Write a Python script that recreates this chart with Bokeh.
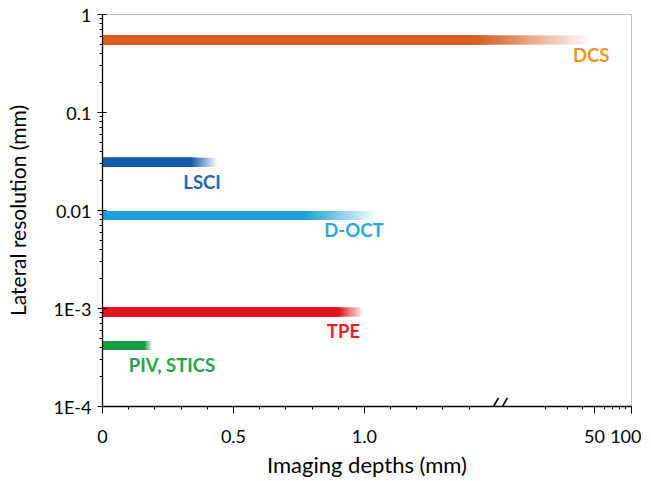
import math
from bokeh.plotting import figure
from bokeh.models import FixedTicker, Range1d, ColumnDataSource
from bokeh.core.properties import value
from bokeh.embed import file_html
from bokeh.resources import INLINE

# ---------------- data ----------------
techniques = ["DCS", "LSCI", "D-OCT", "TPE", "PIV, STICS"]
resolution_mm = [0.55, 0.031, 0.0089, 0.00092, 0.00042]
depth_solid_mm = [1.43, 0.34, 0.77, 0.90, 0.16]
depth_max_mm = [47.0, 0.44, 1.05, 1.0, 0.19]
bar_colors = ["#E8672A", "#1C68B2", "#29A9E1", "#ED1F24", "#22A54B"]
label_colors = ["#F7931E", "#2167AF", "#2AA8E0", "#ED1F24", "#22A54B"]

x_tick_depths = [0, 0.5, 1.0, 50, 100]
x_tick_labels = ["0", "0.5", "1.0", "50", "100"]
x_minor_depths = [0.1, 0.2, 0.3, 0.4, 0.6, 0.7, 0.8, 0.9, 1.1, 1.2, 1.3, 1.4,
                  20, 30, 40, 60, 70, 80, 90]
y_tick_values = [1e-4, 1e-3, 1e-2, 1e-1, 1.0]
y_tick_labels = ["1E-4", "1E-3", "0.01", "0.1", "1"]

# ------------- layout / style -------------
label_depth = [47.0, 0.38, 0.96, 0.92, 0.265]
label_dy_px = [15, 20, 15, 19, 20]

LIN_MAX = 1.5       # end of the linear part of the broken x axis
LOG_START = 1.55    # position of 10 mm on the log part
LOG_SCALE = 0.47    # width of one decade on the log part
BREAK_AT = 1.51


def tx(d):
    if d <= LIN_MAX:
        return d
    return LOG_START + (math.log10(d) - 1.0) * LOG_SCALE


FONT = "Lato"

p = figure(frame_width=529, frame_height=392,
           x_range=Range1d(0, tx(100)), y_range=Range1d(1e-4, 1.0),
           y_axis_type="log", output_backend="svg", toolbar_location=None,
           min_border_left=102, min_border_top=14, min_border_right=10,
           min_border_bottom=66)
p.outline_line_color = "#BFBFBF"
p.grid.visible = False
p.background_fill_color = "white"
p.border_fill_color = "white"

# bars with a fading end (stacked translucent segments -> smooth fade)
N = 40
for name, r, ds, dm, col in zip(techniques, resolution_mm, depth_solid_mm,
                                depth_max_mm, bar_colors):
    xs, xe = tx(ds), tx(dm)
    p.segment(x0=[0], y0=[r], x1=[xs], y1=[r], line_color=col,
              line_width=9, line_cap="butt")
    step = (xe - xs) / N
    t = [(j + 0.5) / N for j in range(N)] + [1.0]
    alphas = [1.0 - t[j] / t[j + 1] for j in range(N)]
    x1 = [xs + (j + 1) * step for j in range(N)]
    p.segment(x0=[0] * N, y0=[r] * N, x1=x1, y1=[r] * N, line_color=col,
              line_alpha=alphas, line_width=9, line_cap="butt")

# labels
lab = ColumnDataSource(dict(x=[tx(d) for d in label_depth], y=resolution_mm,
                            text=techniques, color=label_colors,
                            dy=label_dy_px))
p.text(x="x", y="y", text="text", source=lab, text_color="color",
       y_offset="dy", text_align="center", text_baseline="middle",
       text_font=value(FONT), text_font_style="bold", text_font_size="18.5px")

# axis break marks
ya = 1e-4
for c in (BREAK_AT - 0.017, BREAK_AT + 0.017):
    p.segment(x0=[c - 5 / 262], y0=[ya * 10 ** (-8.5 / 97.8)],
              x1=[c + 5 / 262], y1=[ya * 10 ** (8.5 / 97.8)],
              line_color="black", line_width=1.6)

# x axis
xt = [round(tx(d), 6) for d in x_tick_depths]
xm = [round(tx(d), 6) for d in x_minor_depths]
xa = p.xaxis[0]
xa.ticker = FixedTicker(ticks=xt, minor_ticks=xm)
xa.major_label_overrides = {t: l for t, l in zip(xt, x_tick_labels)}
xa.axis_label = "Imaging depths (mm)"

ya_ = p.yaxis[0]
y_minor = [k * 10 ** e for e in range(-4, 0) for k in range(2, 10)]
ya_.ticker = FixedTicker(ticks=y_tick_values, minor_ticks=y_minor)
ya_.major_label_overrides = {t: l for t, l in zip(y_tick_values, y_tick_labels)}
ya_.axis_label = "Lateral resolution (mm)"

for ax in (xa, ya_):
    ax.axis_line_color = "black"
    ax.axis_line_width = 1.3
    ax.major_tick_line_color = "black"
    ax.minor_tick_line_color = "black"
    ax.major_label_text_font = FONT
    ax.major_label_text_font_size = "18px"
    ax.major_label_text_color = "black"
    ax.axis_label_text_font = FONT
    ax.axis_label_text_font_style = "normal"
    ax.axis_label_text_color = "black"

xa.axis_label_text_font_size = "22px"
ya_.axis_label_text_font_size = "21px"

xa.major_tick_in = 0
xa.major_tick_out = 7
xa.minor_tick_in = 0
xa.minor_tick_out = 3
xa.major_label_standoff = 16
xa.axis_label_standoff = 5

ya_.major_tick_in = 4
ya_.major_tick_out = 5
ya_.minor_tick_in = 0
ya_.minor_tick_out = 3
ya_.major_label_standoff = 6
ya_.axis_label_standoff = 21

open("out.html", "w").write(file_html(p, INLINE))
